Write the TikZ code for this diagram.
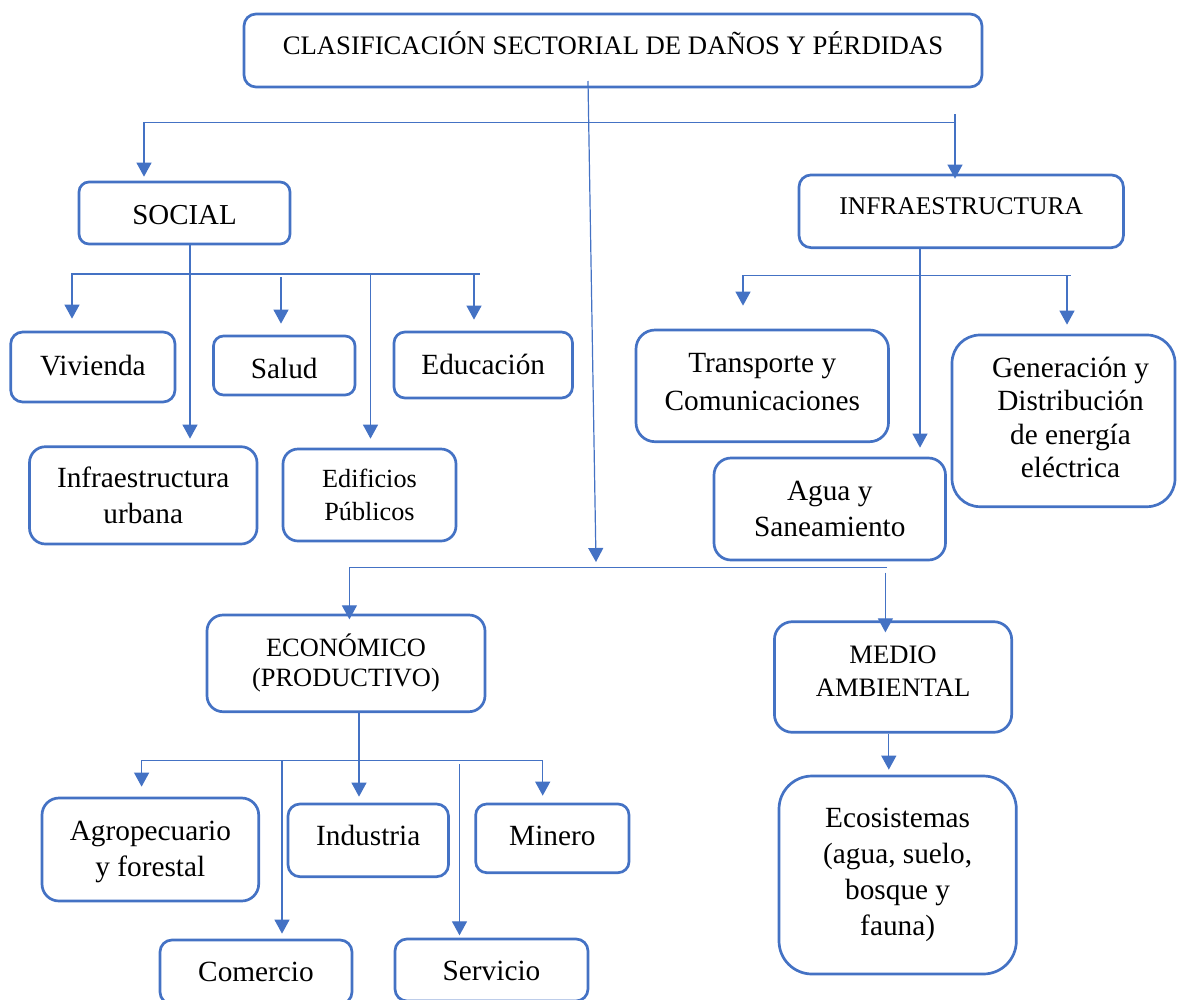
\documentclass[tikz,border=0pt]{standalone}
\usepackage{fontspec}
\setmainfont{Liberation Serif}
\usetikzlibrary{arrows.meta}
\definecolor{boxblue}{HTML}{4472C4}
\newcommand{\fs}[2]{\fontsize{#1pt}{#2pt}\selectfont}
\tikzset{
  box/.style={draw=boxblue, line width=2.7pt, rounded corners=#1, inner sep=0pt,
    align=center, text=black},
  box/.default=12pt,
  conn/.style={draw=boxblue, line width=1.2pt},
  arr/.style={conn, -{Triangle[length=14pt,width=15pt]}, shorten >=#1},
  arr/.default=0pt,
}
\begin{document}
\begin{tikzpicture}[x=1pt,y=-1pt]
\useasboundingbox (0,0) rectangle (1177,999);
\clip (0,0) rectangle (1177,999);

% ---- boxes ----
\node[box=12pt, minimum width=738pt, text height=40pt, text depth=33pt, font=\fs{26.7}{32}]
  (title) at (613,50.5) {CLASIFICACIÓN SECTORIAL DE DAÑOS Y PÉRDIDAS};

\node[box=10pt, minimum width=211pt, text height=42pt, text depth=20pt, font=\fs{28.9}{35}]
  (social) at (184.5,213) {SOCIAL};
\node[box=12pt, minimum width=324.4pt, text height=40pt, text depth=32.7pt, font=\fs{25.5}{31}]
  (infra) at (961.2,211.3) {INFRAESTRUCTURA};

\node[box=12pt, minimum width=164.3pt, text height=43pt, text depth=27pt, font=\fs{29.3}{36}]
  (viv) at (92.85,367) {Vivienda};
\node[box=10pt, minimum width=141.5pt, text height=42pt, text depth=17pt, font=\fs{29.3}{36}]
  (salud) at (284.25,365.5) {Salud};
\node[box=11pt, minimum width=178.5pt, text height=42pt, text depth=24pt, font=\fs{29.3}{36}]
  (educ) at (483.25,365) {Educación};
\node[box=16pt, minimum width=227.5pt, minimum height=97.3pt, font=\fs{29.3}{36.7}]
  (iurb) at (143.25,495.35) {Infraestructura\\urbana};
\node[box=15pt, minimum width=173pt, minimum height=92pt, font=\fs{26.2}{33}]
  (edif) at (369.5,495) {Edificios\\Públicos};

\node[box=19pt, minimum width=252.5pt, minimum height=111.7pt, font=\fs{29.3}{37.7}]
  (transp) at (762.25,385.85) {Transporte y\\Comunicaciones\rule[-7.6pt]{0pt}{7.6pt}};
\node[box=17pt, minimum width=231.5pt, minimum height=102pt, font=\fs{29.3}{36.3}]
  (agua) at (829.75,509) {Agua y\\Saneamiento};
% text block sits slightly right of the box centre
\node[box=28pt, minimum width=223pt, minimum height=171.7pt, font=\fs{29.3}{33.3}]
  (gen) at (1063.5,420.85)
  {\begin{tabular}{@{\hspace{14pt}}c@{}}Generación y\\Distribución\\de energía\\eléctrica\end{tabular}};

\node[box=16pt, minimum width=278pt, minimum height=96.7pt, font=\fs{26.4}{30}]
  (econ) at (346,663.35) {ECONÓMICO\\(PRODUCTIVO)};
\node[box=18pt, minimum width=237.3pt, minimum height=110.6pt, font=\fs{26.6}{33.4}]
  (medio) at (893.05,677) {MEDIO\\AMBIENTAL\rule[-11.6pt]{0pt}{11.6pt}};

\node[box=17pt, minimum width=216.7pt, minimum height=103pt, font=\fs{29.3}{36}]
  (agro) at (150.35,849.5) {\rule{0pt}{24pt}Agropecuario\\y forestal};
\node[box=12pt, minimum width=160.5pt, text height=41pt, text depth=31.7pt, font=\fs{29.3}{36}]
  (indus) at (368.25,840.35) {Industria};
\node[box=11pt, minimum width=153.3pt, text height=41pt, text depth=27.7pt, font=\fs{29.3}{36}]
  (minero) at (552.35,838.35) {Minero};
\node[box=12pt, minimum width=192pt, text height=41.7pt, text depth=22.3pt, font=\fs{29.3}{36}]
  (comercio) at (256,972) {Comercio};
\node[box=12pt, minimum width=193pt, text height=41pt, text depth=21pt, font=\fs{29.3}{36}]
  (servicio) at (491.5,970) {Servicio};

\node[box=33pt, minimum width=237.3pt, minimum height=198pt, font=\fs{29.3}{36.2}]
  (eco) at (897.65,875) {Ecosistemas\\(agua, suelo,\\bosque y\\fauna)};

% ---- junction points ----
\coordinate (mainstart) at (588,81);
\coordinate (mainend)   at (596,562);
\coordinate (tbL) at (144,122.7);
\coordinate (tbR) at (956,122.7);
\coordinate (tbRtop) at (955,114);

\coordinate (sbL) at (72,274);
\coordinate (sbR) at (479.5,274);
\coordinate (sdown) at (190,274);
\coordinate (s2) at (281,277);
\coordinate (s3) at (370.5,274);
\coordinate (s4) at (474,274);

\coordinate (ibL) at (743,275.7);
\coordinate (ibR) at (1070.6,275.7);
\coordinate (igen) at (1067,275.7);
\coordinate (idown) at (920,275.7);

\coordinate (ebL) at (349.4,567.5);
\coordinate (ebR) at (887,567.5);
\coordinate (emed) at (885.4,572.7);

\coordinate (ecL) at (141.6,760.7);
\coordinate (ecR) at (542.7,760.7);
\coordinate (edown) at (359,760.7);
\coordinate (ec2) at (282,760.7);
\coordinate (ec3) at (459.5,764);

\coordinate (mdown) at (888.8,760);

% ---- connectors: top level ----
\draw[arr] (mainstart) -- (mainend);
\draw[arr=4pt] (tbR) -- (tbL) -- (tbL |- social.north);
\draw[arr=-5pt] (tbRtop) -- (tbRtop |- infra.north);

% ---- social ----
\draw[arr=12pt] (sbR) -- (sbL) -- (sbL |- viv.north);
\draw[arr=6.7pt] (social.south -| sdown) -- (sdown |- iurb.north);
\draw[arr=11pt] (s2) -- (s2 |- salud.north);
\draw[arr=9pt] (s3) -- (s3 |- edif.north);
\draw[arr=11pt] (s4) -- (s4 |- educ.north);

% ---- infraestructura ----
\draw[arr=23pt] (ibR) -- (ibL) -- (ibL |- transp.north);
\draw[arr=9pt] (igen) -- (igen |- gen.north);
\draw[arr=9pt] (infra.south -| idown) -- (idown |- agua.north);

% ---- economico / medio ambiental ----
\draw[arr=-5.7pt] (ebR) -- (ebL) -- (ebL |- econ.north);
\draw[arr=-12pt] (emed) -- (emed |- medio.north);

\draw[arr=10pt] (ecR) -- (ecL) -- (ecL |- agro.north);
\draw[arr=7pt] (ecR) -- (ecR |- minero.north);
\draw[arr=6pt] (econ.south -| edown) -- (edown |- indus.north);
\draw[arr=5pt] (ec2) -- (ec2 |- comercio.north);
\draw[arr=2.3pt] (ec3) -- (ec3 |- servicio.north);

\draw[arr=5pt] (medio.south -| mdown) -- (mdown |- eco.north);
\end{tikzpicture}
\end{document}
